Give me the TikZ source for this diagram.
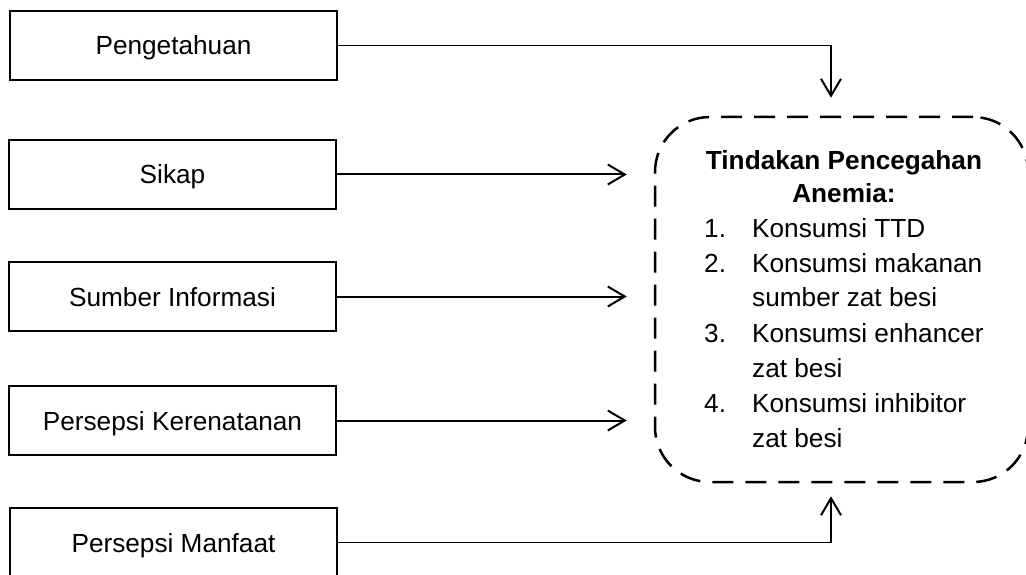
\documentclass[tikz,border=0pt]{standalone}
\usepackage{fontspec}
\setmainfont{Liberation Sans}
\usetikzlibrary{arrows.meta}
\begin{document}
\begin{tikzpicture}[x=1pt,y=-1pt,
  inbox/.style={draw, line width=2pt, minimum width=327pt, minimum height=69pt,
    inner sep=0pt, text height=19pt, text depth=0pt, font=\fontsize{26.2}{30}\selectfont},
  conn/.style={line width=2pt, -{Straight Barb[length=17pt,width=20pt,line width=2pt]}},
  thinconn/.style={conn, line width=1.3pt},
  txt/.style={inner sep=0pt, font=\fontsize{26.2}{30}\selectfont},
  ttl/.style={txt, anchor=base, font=\fontsize{26.2}{30}\selectfont\bfseries},
  num/.style={txt, anchor=base west},
  goal/.style={draw, line width=2.5pt, dash pattern=on 21pt off 12pt, rounded corners=55pt,
    minimum width=373pt, minimum height=365pt, inner sep=0pt}]
\useasboundingbox (0,0) rectangle (1026,575);
\clip (0,0) rectangle (1026,575);

\node[inbox] (b1) at (173.5,45.5) {Pengetahuan};
\node[inbox] (b2) at (172.5,174.5) {Sikap};
\node[inbox] (b3) at (172.5,296.5) {Sumber Informasi};
\node[inbox] (b4) at (172.5,420.5) {Persepsi Kerenatanan};
\node[inbox] (b5) at (173.5,542.5) {Persepsi Manfaat};

\node[goal] (tgt) at (841.5,299.5) {};

\node[ttl] (t1) at (844,170) {Tindakan Pencegahan};
\node[ttl] (t2) at (844,203) {Anemia:};
\node[num] (n1) at (704,237) {1.};
\node[num] (l1) at (752,237) {Konsumsi TTD};
\node[num] (n2) at (704,272) {2.};
\node[num] (l2) at (752,272) {Konsumsi makanan};
\node[num] (l2b) at (752,306) {sumber zat besi};
\node[num] (n3) at (704,342) {3.};
\node[num] (l3) at (752,342) {Konsumsi enhancer};
\node[num] (l3b) at (752,377) {zat besi};
\node[num] (n4) at (704,412) {4.};
\node[num] (l4) at (752,412) {Konsumsi inhibitor};
\node[num] (l4b) at (752,447) {zat besi};

\draw[thinconn, shorten >=18pt] (b1.east) -| ([xshift=-10.5pt]tgt.north);
\draw[conn, shorten >=27pt] (b2.east) -- (b2.east -| tgt.west);
\draw[conn, shorten >=27pt] (b3.east) -- (b3.east -| tgt.west);
\draw[conn, shorten >=27pt] (b4.east) -- (b4.east -| tgt.west);
\draw[thinconn, line width=1.6pt, shorten >=13pt] (b5.east) -| ([xshift=-10.5pt]tgt.south);
\end{tikzpicture}
\end{document}
